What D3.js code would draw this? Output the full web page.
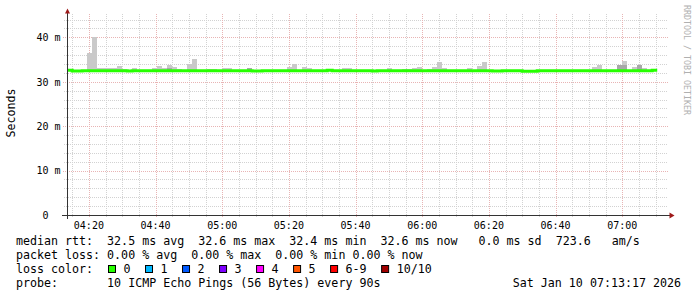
<!DOCTYPE html>
<html>
<head>
<meta charset="utf-8">
<script src="https://cdn.jsdelivr.net/npm/d3@7"></script>
<style>
  html, body { margin: 0; padding: 0; background: #fff; }
  svg { display: block; }
  text { font-family: "DejaVu Sans Mono", monospace; white-space: pre; }
</style>
</head>
<body>
<svg id="chart" width="697" height="297"></svg>
<script>
// graph window: 3 hours up to the time stamp, one bin every 90s
var startTime = '2026-01-10T04:13:17Z';
var endTime = '2026-01-10T07:13:17Z';
var firstBin = '2026-01-10T04:13:30Z';
var stepSec = 90;

// median rtt per bin (ms)
var median = [
  32.6, 32.4, 32.4, 32.5, 32.5, 32.5, 32.5, 32.5, 32.5, 32.5,
  32.5, 32.5, 32.4, 32.5, 32.5, 32.5, 32.5, 32.5, 32.5, 32.5,
  32.5, 32.5, 32.5, 32.5, 32.5, 32.5, 32.5, 32.5, 32.5, 32.5,
  32.5, 32.5, 32.5, 32.5, 32.5, 32.5, 32.5, 32.4, 32.4, 32.5,
  32.5, 32.5, 32.5, 32.5, 32.5, 32.5, 32.5, 32.5, 32.5, 32.5,
  32.5, 32.5, 32.6, 32.5, 32.5, 32.5, 32.5, 32.5, 32.5, 32.5,
  32.5, 32.4, 32.5, 32.5, 32.5, 32.5, 32.5, 32.5, 32.5, 32.5,
  32.5, 32.5, 32.5, 32.5, 32.5, 32.5, 32.5, 32.5, 32.5, 32.5,
  32.5, 32.5, 32.5, 32.5, 32.5, 32.4, 32.4, 32.5, 32.5, 32.5,
  32.5, 32.35, 32.35, 32.35, 32.5, 32.5, 32.5, 32.5, 32.5, 32.5,
  32.5, 32.5, 32.5, 32.5, 32.5, 32.5, 32.5, 32.5, 32.5, 32.5,
  32.5, 32.5, 32.5, 32.5, 32.5, 32.5, 32.5, 32.6
];

// slowest ping per bin (ms) -> top of the light smoke
var maxPing = [
  32.7, 32.7, 32.7, 32.7, 36.4, 40.1, 33.0, 33.0, 33.0, 33.0,
  33.6, 32.8, 32.7, 33.0, 32.7, 32.7, 32.7, 33.2, 33.6, 33.2,
  33.8, 33.4, 32.9, 32.7, 34.1, 35.1, 32.7, 32.7, 32.9, 32.9,
  32.7, 33.2, 33.2, 32.7, 32.7, 32.7, 33.1, 32.7, 32.7, 32.7,
  32.7, 32.7, 32.7, 32.7, 33.4, 34.1, 32.7, 33.4, 33.0, 32.7,
  32.7, 32.7, 32.7, 32.7, 32.7, 33.0, 33.0, 32.7, 32.7, 32.7,
  32.7, 32.7, 32.7, 32.7, 33.2, 32.7, 32.7, 32.9, 32.9, 33.2,
  33.4, 32.7, 32.9, 33.4, 34.5, 33.2, 32.7, 32.7, 32.7, 32.7,
  33.2, 32.7, 33.6, 34.5, 32.7, 32.7, 32.7, 32.7, 32.7, 32.7,
  32.7, 32.7, 32.7, 32.7, 32.7, 32.7, 32.7, 32.7, 32.7, 32.7,
  32.7, 32.7, 32.7, 32.7, 32.7, 33.4, 33.8, 32.7, 32.7, 32.7,
  33.8, 34.7, 32.7, 33.4, 33.8, 33.2, 32.7, 32.7
];

// inner (denser) smoke top per bin (ms)
var innerPing = [
  32.6, 32.4, 32.4, 32.5, 32.5, 32.5, 32.5, 32.5, 32.5, 32.5,
  32.5, 32.5, 32.4, 32.5, 32.5, 32.5, 32.5, 32.5, 32.5, 32.5,
  33.0, 32.5, 32.5, 32.5, 32.5, 32.5, 32.5, 32.5, 32.5, 32.5,
  32.5, 32.5, 32.5, 32.5, 32.5, 32.5, 33.1, 32.4, 32.4, 32.5,
  32.5, 32.5, 32.5, 32.5, 32.5, 32.5, 32.5, 32.5, 32.5, 32.5,
  32.5, 32.5, 32.6, 32.5, 32.5, 32.5, 32.5, 32.5, 32.5, 32.5,
  32.5, 32.4, 32.5, 32.5, 32.5, 32.5, 32.5, 32.5, 32.5, 32.5,
  32.5, 32.5, 32.5, 32.5, 32.5, 32.5, 32.5, 32.5, 32.5, 32.5,
  32.5, 32.5, 32.5, 32.5, 32.5, 32.4, 32.4, 32.5, 32.5, 32.5,
  32.5, 32.35, 32.35, 32.35, 32.5, 32.5, 32.5, 32.5, 32.5, 32.5,
  32.5, 32.5, 32.5, 32.5, 32.5, 32.5, 32.5, 32.5, 32.5, 32.5,
  33.8, 33.8, 32.5, 32.5, 33.8, 32.5, 32.5, 32.6
];

var yMajor = [0, 10, 20, 30, 40];
var yLabels = ['0  ', '10 m', '20 m', '30 m', '40 m'];

var lossLabels = ['0', '1', '2', '3', '4', '5', '6-9', '10/10'];
var lossColors = ['#26ff00', '#00b8ff', '#0059ff', '#7e00ff', '#ff00ff', '#ff5500', '#ff0000', '#a10000'];

var legendLines = [
  'median rtt:  32.5 ms avg  32.6 ms max  32.4 ms min  32.6 ms now   0.0 ms sd  723.6   am/s',
  'packet loss: 0.00 % avg  0.00 % max  0.00 % min 0.00 % now'
];
var probeLine = 'probe:       10 ICMP Echo Pings (56 Bytes) every 90s';
var stampLine = 'Sat Jan 10 07:13:17 2026';

var svg = d3.select('#chart');

var x = d3.scaleUtc()
  .domain([new Date(startTime), new Date(endTime)])
  .range([66.5, 666.5]);
var y = d3.scaleLinear()
  .domain([0, 45.3])
  .range([215, 13.8]);

var t0 = new Date(firstBin).getTime();
var bins = median.map(function(m, i) {
  return {
    start: new Date(t0 + i * stepSec * 1000),
    end: new Date(t0 + (i + 1) * stepSec * 1000),
    median: m,
    max: maxPing[i],
    inner: innerPing[i]
  };
});

// grid
var grid = svg.append('g').attr('class', 'grid').style('shape-rendering', 'crispEdges');
var plotTop = Math.round(y.range()[1]);
var minorColor = '#d2d2d2';
var majorColor = '#e8b4b4';

var minorY = d3.range(2, 45, 2).filter(function(v) { return v % 10 !== 0; });
grid.selectAll('.hminor').data(minorY).enter().append('line')
  .attr('class', 'hminor')
  .attr('x1', 64).attr('x2', 668)
  .attr('y1', function(d) { return Math.round(y(d)) + 0.5; })
  .attr('y2', function(d) { return Math.round(y(d)) + 0.5; })
  .style('stroke', minorColor)
  .style('stroke-dasharray', '1,1');

var minorX = d3.utcMinute.every(5).range(x.domain()[0], x.domain()[1])
  .filter(function(d) { return d.getUTCMinutes() % 20 !== 0; });
grid.selectAll('.vminor').data(minorX).enter().append('line')
  .attr('class', 'vminor')
  .attr('x1', function(d) { return Math.round(x(d)) + 0.5; })
  .attr('x2', function(d) { return Math.round(x(d)) + 0.5; })
  .attr('y1', plotTop).attr('y2', 217)
  .style('stroke', minorColor)
  .style('stroke-dasharray', '1,1');

grid.selectAll('.hmajor').data(yMajor.slice(1)).enter().append('line')
  .attr('class', 'hmajor')
  .attr('x1', 63).attr('x2', 668)
  .attr('y1', function(d) { return Math.round(y(d)) + 0.5; })
  .attr('y2', function(d) { return Math.round(y(d)) + 0.5; })
  .style('stroke', majorColor)
  .style('stroke-dasharray', '1,1');

var majorX = d3.utcMinute.every(20).range(x.domain()[0], x.domain()[1]);
grid.selectAll('.vmajor').data(majorX).enter().append('line')
  .attr('class', 'vmajor')
  .attr('x1', function(d) { return Math.round(x(d)) + 0.5; })
  .attr('x2', function(d) { return Math.round(x(d)) + 0.5; })
  .attr('y1', plotTop).attr('y2', 218)
  .style('stroke', majorColor)
  .style('stroke-dasharray', '1,1');

// smoke: light outer layer, darker inner layer
var smoke = svg.append('g').style('shape-rendering', 'crispEdges');
smoke.selectAll('.outer').data(bins).enter().append('rect')
  .attr('class', 'outer')
  .attr('x', function(d) { return x(d.start); })
  .attr('width', function(d) { return x(d.end) - x(d.start); })
  .attr('y', function(d) { return y(d.max); })
  .attr('height', function(d) { return Math.max(0, y(d.median) - y(d.max)); })
  .style('fill', '#c9c9c9');
smoke.selectAll('.inner').data(bins.filter(function(d) { return d.inner > d.median; })).enter().append('rect')
  .attr('class', 'inner')
  .attr('x', function(d) { return x(d.start); })
  .attr('width', function(d) { return x(d.end) - x(d.start); })
  .attr('y', function(d) { return y(d.inner); })
  .attr('height', function(d) { return Math.max(0, y(d.median) - y(d.inner)); })
  .style('fill', '#a8a8a8');

// median line
var pts = bins.map(function(d) { return [d.start, d.median]; });
var last = bins[bins.length - 1];
pts.push([last.end, last.median]);
var line = d3.line()
  .x(function(d) { return x(d[0]); })
  .y(function(d) { return y(d[1]); })
  .curve(d3.curveStepAfter);
svg.append('path')
  .attr('d', line(pts))
  .style('fill', 'none')
  .style('stroke', lossColors[0])
  .style('stroke-width', 3);

// axes
var axisColor = '#333';
var arrowColor = '#9e1a1a';
var x1 = x.range()[1];
var yBase = y(0);
svg.append('line')
  .attr('x1', 62).attr('x2', x1 + 3)
  .attr('y1', yBase + 0.5).attr('y2', yBase + 0.5)
  .style('stroke', axisColor).style('shape-rendering', 'crispEdges');
svg.append('line')
  .attr('x1', 67.5).attr('x2', 67.5)
  .attr('y1', yBase + 4).attr('y2', plotTop - 1)
  .style('stroke', axisColor).style('shape-rendering', 'crispEdges');
svg.append('path')
  .attr('d', 'M' + (x1 + 3) + ',' + (yBase - 2.5) + 'L' + (x1 + 8) + ',' + (yBase + 0.5) + 'L' + (x1 + 3) + ',' + (yBase + 3.5) + 'Z')
  .style('fill', arrowColor);
svg.append('path')
  .attr('d', 'M65,' + (plotTop - 0.5) + 'L67.5,' + (plotTop - 5.5) + 'L70,' + (plotTop - 0.5) + 'Z')
  .style('fill', arrowColor);

// y tick labels
svg.append('g').selectAll('text').data(yMajor).enter().append('text')
  .attr('x', 60.5)
  .attr('y', function(d) { return y(d) + 3.8; })
  .attr('text-anchor', 'end')
  .style('font-size', '10px')
  .style('fill', '#000')
  .text(function(d, i) { return yLabels[i]; });

// x tick labels
var fmt = d3.utcFormat('%H:%M');
svg.append('g').selectAll('text').data(majorX).enter().append('text')
  .attr('x', function(d) { return x(d); })
  .attr('y', 228.5)
  .attr('text-anchor', 'middle')
  .style('font-size', '10px')
  .style('fill', '#000')
  .text(function(d) { return fmt(d); });

// y title
svg.append('text')
  .attr('transform', 'translate(15,113) rotate(-90)')
  .attr('text-anchor', 'middle')
  .style('font-size', '11.6px')
  .style('fill', '#000')
  .text('Seconds');

// watermark
svg.append('text')
  .attr('transform', 'translate(684,5) rotate(90)')
  .style('font-size', '8.3px')
  .style('fill', '#b0b0b0')
  .text('RRDTOOL / TOBI OETIKER');

// legend
var lg = svg.append('g').style('font-size', '11.65px').style('fill', '#000');
lg.selectAll('.row').data(legendLines).enter().append('text')
  .attr('class', 'row')
  .attr('x', 16)
  .attr('y', function(d, i) { return 245 + i * 14; })
  .text(function(d) { return d; });

lg.append('text').attr('x', 16).attr('y', 273).text('loss color:');
var charW = 7.015;
var bx = 108.5;
lossLabels.forEach(function(lbl, i) {
  lg.append('rect')
    .attr('x', bx).attr('y', 265.5)
    .attr('width', 7).attr('height', 7)
    .style('fill', lossColors[i])
    .style('stroke', '#000');
  lg.append('text').attr('x', bx + 15).attr('y', 273).text(lbl);
  bx += 15 + lbl.length * charW + 15;
});

lg.append('text').attr('x', 16).attr('y', 287).text(probeLine);
lg.append('text').attr('x', 681).attr('y', 287).attr('text-anchor', 'end').text(stampLine);
</script>
</body>
</html>
